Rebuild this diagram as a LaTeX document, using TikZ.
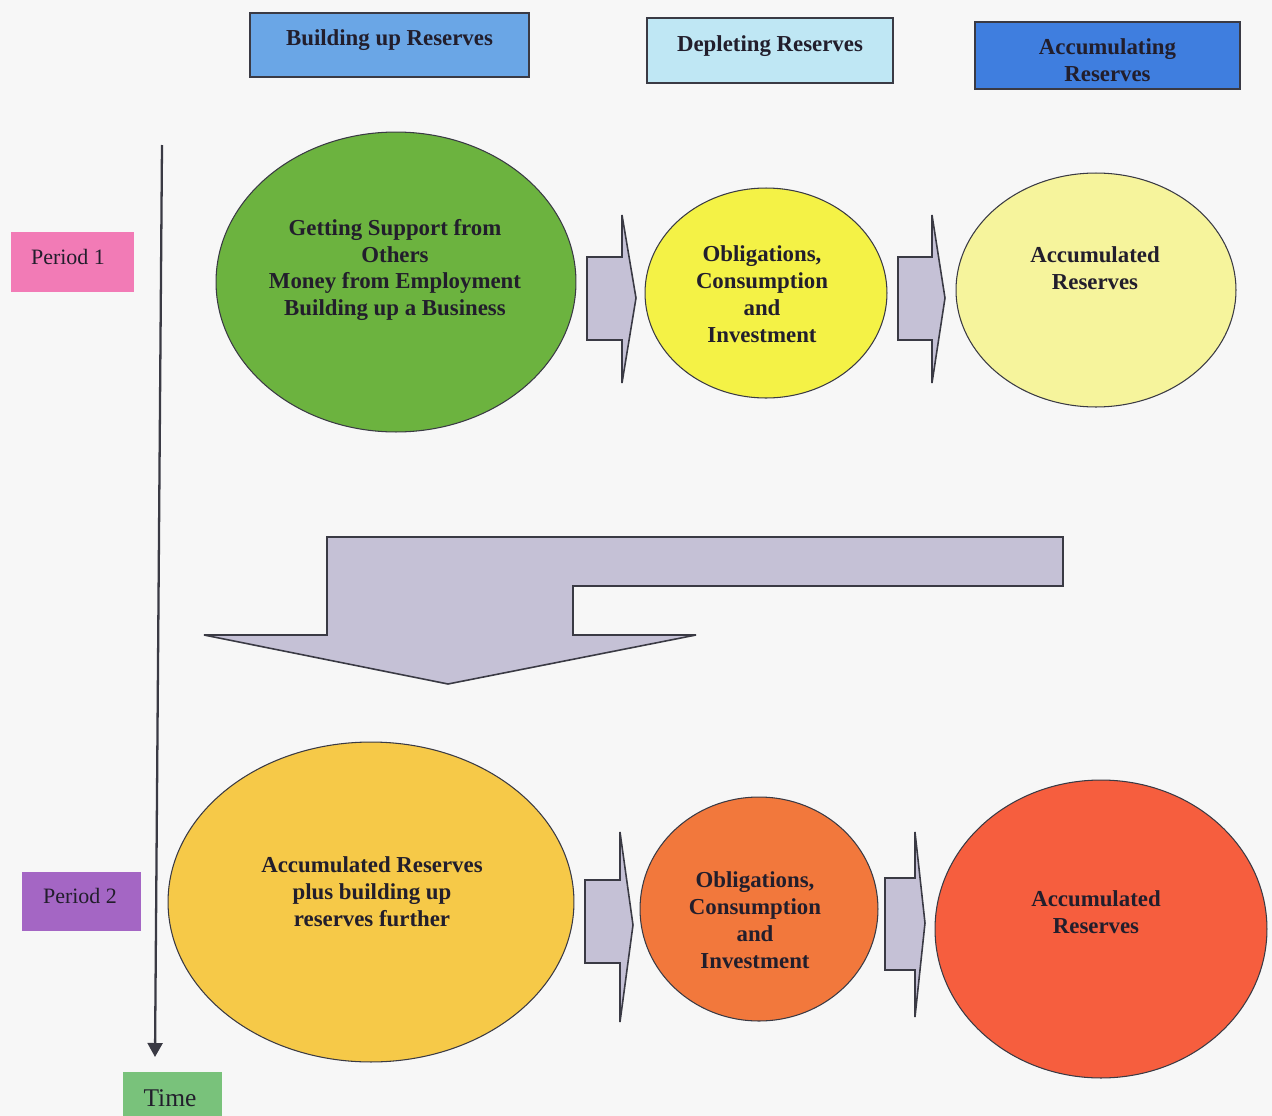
\documentclass[tikz,border=0pt]{standalone}
\usepackage{fontspec}
\setmainfont{Liberation Serif}
\usetikzlibrary{shapes.geometric,arrows.meta}
\definecolor{bg}{HTML}{F7F7F7}
\definecolor{ink}{HTML}{221E2C}
\definecolor{edge}{HTML}{3A3A44}
\definecolor{hdrA}{HTML}{6AA6E6}
\definecolor{hdrB}{HTML}{BFE7F4}
\definecolor{hdrC}{HTML}{3F7EDF}
\definecolor{perA}{HTML}{F27BB6}
\definecolor{perB}{HTML}{A466C4}
\definecolor{timeC}{HTML}{79C27B}
\definecolor{cGreen}{HTML}{6CB33F}
\definecolor{cYellow}{HTML}{F4F246}
\definecolor{cPale}{HTML}{F6F49C}
\definecolor{cGold}{HTML}{F6C948}
\definecolor{cOrange}{HTML}{F2783C}
\definecolor{cRed}{HTML}{F65E3E}
\definecolor{flow}{HTML}{C5C1D6}
% block arrow: left x, shaft right x, shaft top, shaft bottom, barb top, barb bottom, tip x, tip y
\newcommand\flowarrow[8]{%
  \draw[flowarrowstyle] (#1,#3) -- (#2,#3) -- (#2,#5) -- (#7,#8) -- (#2,#6)
    -- (#2,#4) -- (#1,#4) -- cycle;}
\begin{document}
\begin{tikzpicture}[x=0.02cm,y=-0.02cm,
  txtfont/.style={font=\bfseries\fontsize{13}{15.3}\selectfont, text=ink, align=center},
  hdrbox/.style={draw=edge, line width=1.1pt, inner sep=0pt, txtfont},
  perbox/.style={inner sep=0pt, font=\fontsize{12.5}{15}\selectfont, text=ink},
  blob/.style={ellipse, draw=edge, line width=0.6pt, inner sep=0pt},
  flowarrowstyle/.style={fill=flow, draw=edge, line width=0.9pt, line join=miter},
]
% canvas
\fill[bg] (0,0) rectangle (1272,1116);
\useasboundingbox (0,0) rectangle (1272,1116);

% column headers
\node[hdrbox, fill=hdrA, minimum width=5.58cm, minimum height=1.28cm] (hbuild) at (389.5,45) {};
\node[txtfont] (hbuildt) at (389.5,40) {Building up Reserves};
\node[hdrbox, fill=hdrB, minimum width=4.92cm, minimum height=1.30cm] (hdeplete) at (770,50.5) {};
\node[txtfont] (hdepletet) at (770,46) {Depleting Reserves};
\node[hdrbox, fill=hdrC, minimum width=5.30cm, minimum height=1.34cm] (haccum) at (1107.5,55.5) {};
\begin{scope}
  \clip (976,23) rectangle (1239,86);
  \node[txtfont] (haccumt) at (1107.5,60) {Accumulating\\Reserves};
\end{scope}

% period labels
\node[perbox, fill=perA, minimum width=2.46cm, minimum height=1.20cm] (p1) at (72.5,262) {};
\node[perbox] (p1t) at (68,257) {Period 1};
\node[perbox, fill=perB, minimum width=2.38cm, minimum height=1.18cm] (p2) at (81.5,901.5) {};
\node[perbox] (p2t) at (80,896) {Period 2};
\node[perbox, fill=timeC, minimum width=1.98cm, minimum height=0.92cm] (time) at (172.5,1095) {};
\node[perbox, font=\fontsize{14.5}{17}\selectfont] (timet) at (170,1098) {Time};

% time axis
\coordinate (tstart) at (162,145);
\coordinate (tend) at (155,1057);
\draw[edge, line width=1.3pt, -{Triangle[length=0.28cm, width=0.30cm]}] (tstart) -- (tend);

% period 1
\node[blob, fill=cGreen, minimum width=7.2cm, minimum height=6.0cm] (g1) at (396,282) {};
\node[txtfont] (g1t) at (395,270) {Getting Support from\\Others\\Money from Employment\\Building up a Business};
\node[blob, fill=cYellow, minimum width=4.84cm, minimum height=4.2cm] (y1) at (766,293) {};
\node[txtfont] (y1t) at (762,294) {Obligations,\\Consumption\\and\\Investment};
\node[blob, fill=cPale, minimum width=5.6cm, minimum height=4.68cm] (a1) at (1096,290) {};
\node[txtfont] (a1t) at (1095,268) {Accumulated\\Reserves};

\flowarrow{587}{622}{257}{340}{215}{383}{636}{298}
\flowarrow{898}{932}{257}{340}{215}{383}{945}{298}

% carry-over arrow
\draw[flowarrowstyle] (327,537) -- (1063,537) -- (1063,586) -- (573,586) -- (573,635)
  -- (696,635) -- (448,684) -- (204,635) -- (327,635) -- cycle;

% period 2
\node[blob, fill=cGold, minimum width=8.12cm, minimum height=6.4cm] (g2) at (371,902) {};
\node[txtfont] (g2t) at (372,892) {Accumulated Reserves\\plus building up\\reserves further};
\node[blob, fill=cOrange, minimum width=4.76cm, minimum height=4.48cm] (y2) at (759,909) {};
\node[txtfont] (y2t) at (755,920) {Obligations,\\Consumption\\and\\Investment};
\node[blob, fill=cRed, minimum width=6.64cm, minimum height=5.96cm] (a2) at (1101,929) {};
\node[txtfont] (a2t) at (1096,912) {Accumulated\\Reserves};

\flowarrow{585}{620}{880}{963}{832}{1022}{633}{925}
\flowarrow{885}{915}{878}{970}{832}{1017}{925}{923}
\end{tikzpicture}
\end{document}
